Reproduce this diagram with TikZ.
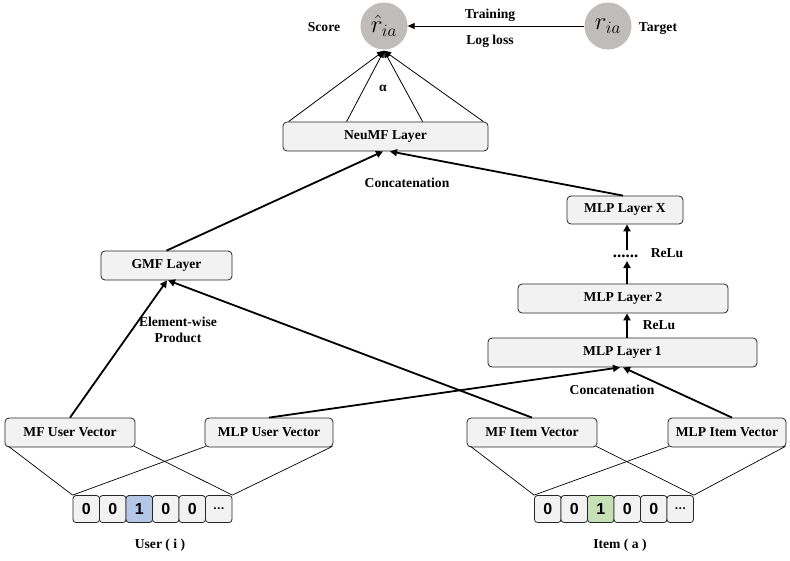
\documentclass[tikz,border=0pt]{standalone}
\usepackage{fontspec}
\setmainfont{Liberation Serif}
\newfontfamily\cellfont{Liberation Sans}
\usetikzlibrary{arrows.meta,calc}
\definecolor{boxfill}{RGB}{242,242,242}
\definecolor{circfill}{RGB}{191,188,186}
\definecolor{cellblue}{RGB}{180,199,231}
\definecolor{cellgreen}{RGB}{197,224,180}
\tikzset{
  box/.style={draw=black!85, line width=0.8pt, fill=boxfill, rounded corners=4pt,
    minimum height=29, inner sep=0pt, font=\fontsize{13.6}{15}\selectfont\bfseries},
  cell/.style={draw=black!85, line width=0.8pt, fill=boxfill, rounded corners=3pt,
    minimum width=26.5, minimum height=27, inner sep=0pt, font=\cellfont\fontsize{16}{18}\selectfont\bfseries},
  circ/.style={circle, fill=circfill, minimum size=47, inner sep=0pt},
  lbl/.style={font=\fontsize{13.6}{15}\selectfont\bfseries, inner sep=0pt, align=center},
  thick arrow/.style={line width=1.8pt, -{Triangle[length=7pt,width=7pt]}},
  thin line/.style={line width=0.7pt},
  thin arrow/.style={line width=0.8pt, -{Triangle[length=7pt,width=6pt]}}
}
\begin{document}
\begin{tikzpicture}[x=1pt,y=-1pt]
\useasboundingbox (0,0) rectangle (790,560);
% circles
\node[circ] (score) at (384,26) {\fontsize{25}{27}\selectfont$\hat{r}_{ia}$};
\node[circ] (target) at (608,26) {\fontsize{25}{27}\selectfont$r_{ia}$};
\node[lbl] (scorelbl) at (324,27) {Score};
\node[lbl] (targetlbl) at (658,29) {Target};
\node[lbl] (training) at (490,15) {Training};
\node[lbl] (logloss) at (490,41) {Log loss};
\draw[thin arrow] (target.west) -- (score.east);
% boxes
\node[box, minimum width=205] (neumf) at (385.5,136.5) {NeuMF Layer};
\node[box, minimum width=131] (gmf) at (166.5,265.5) {GMF Layer};
\node[box, minimum width=116, minimum height=28] (mlpx) at (625,210) {MLP Layer X};
\node[box, minimum width=210] (mlp2) at (623,298.5) {MLP Layer 2};
\node[box, minimum width=269] (mlp1) at (622.5,352.5) {MLP Layer 1};
\node[box, minimum width=130] (mfu) at (70,432.5) {MF User Vector};
\node[box, minimum width=128] (mlpu) at (269,432.5) {MLP User Vector};
\node[box, minimum width=130] (mfi) at (532,432.5) {MF Item Vector};
\node[box, minimum width=118] (mlpi) at (727,432.5) {MLP Item Vector};
% cells
\node[cell] (u1) at (86.25,509) {0};
\node[cell] (u2) at (112.75,509) {0};
\node[cell, fill=cellblue] (u3) at (139.25,509) {1};
\node[cell] (u4) at (165.75,509) {0};
\node[cell] (u5) at (192.25,509) {0};
\node[cell, font=\cellfont\fontsize{12}{14}\selectfont\bfseries] (u6) at (218.75,509) {…};
\node[cell] (i1) at (547.75,509) {0};
\node[cell] (i2) at (574.25,509) {0};
\node[cell, fill=cellgreen] (i3) at (600.75,509) {1};
\node[cell] (i4) at (627.25,509) {0};
\node[cell] (i5) at (653.75,509) {0};
\node[cell, font=\cellfont\fontsize{12}{14}\selectfont\bfseries] (i6) at (680.25,509) {…};
\node[lbl] (userlbl) at (160,545) {User ( i )};
\node[lbl] (itemlbl) at (620,545) {Item ( a )};
% embedding lines
\draw[thin line] ($(mfu.south west)+(4,-1)$) -- (u1.north west);
\draw[thin line] ($(mfu.south east)+(-1,-1)$) -- (u6.north east);
\draw[thin line] ($(mlpu.south west)+(1,-1)$) -- (u1.north west);
\draw[thin line] ($(mlpu.south east)+(-1,-1)$) -- (u6.north east);
\draw[thin line] ($(mfi.south west)+(4,-1)$) -- (i1.north west);
\draw[thin line] ($(mfi.south east)+(-1,-1)$) -- (i6.north east);
\draw[thin line] ($(mlpi.south west)+(1,-1)$) -- (i1.north west);
\draw[thin line] ($(mlpi.south east)+(-1,-1)$) -- (i6.north east);
% NeuMF to score
\coordinate (sc) at ($(score.south)+(0,1)$);
\draw[thin arrow] ($(neumf.north west)+(6,0)$) -- (sc);
\draw[thin arrow] ($(neumf.north west)+(64,0)$) -- (sc);
\draw[thin arrow] ($(neumf.north west)+(140,0)$) -- (sc);
\draw[thin arrow] ($(neumf.north east)+(-5,0)$) -- (sc);
\node[lbl] (alpha) at (383,88) {α};
% thick arrows
\draw[thick arrow] (mfu.north) -- ($(gmf.south)+(0.5,0)$);
\draw[thick arrow] (mfi.north) -- ($(gmf.south)+(1.5,0)$);
\draw[thick arrow] (mlpu.north) -- ($(mlp1.south)+(-2.5,0)$);
\draw[thick arrow] ($(mlpi.north)+(5,0)$) -- ($(mlp1.south)+(0.5,0)$);
\draw[thick arrow] (gmf.north) -- ($(neumf.south)+(-2.5,0)$);
\draw[thick arrow] ($(mlpx.north)+(-2,0)$) -- ($(neumf.south)+(4.5,0)$);
\draw[thick arrow] ($(mlp1.north)+(4.5,0)$) -- ($(mlp2.south)+(4,0)$);
\coordinate (dotbot) at (627,261);
\coordinate (dottop) at (627,250);
\draw[thick arrow] ($(mlp2.north)+(4,0)$) -- (dotbot);
\draw[thick arrow] (dottop) -- ($(mlpx.south)+(2,0)$);
\node[lbl, anchor=base, font=\fontsize{17}{18}\selectfont\bfseries] (dots) at (625.5,257.5) {......};
\node[lbl] (relu2) at (667,253) {ReLu};
\node[lbl] (relu1) at (659,325) {ReLu};
\node[lbl] (concat1) at (407,183) {Concatenation};
\node[lbl] (concat2) at (612,390) {Concatenation};
\node[lbl, font=\fontsize{13.6}{16.5}\selectfont\bfseries] (ewp) at (178,330) {Element-wise\\Product};
\end{tikzpicture}
\end{document}
